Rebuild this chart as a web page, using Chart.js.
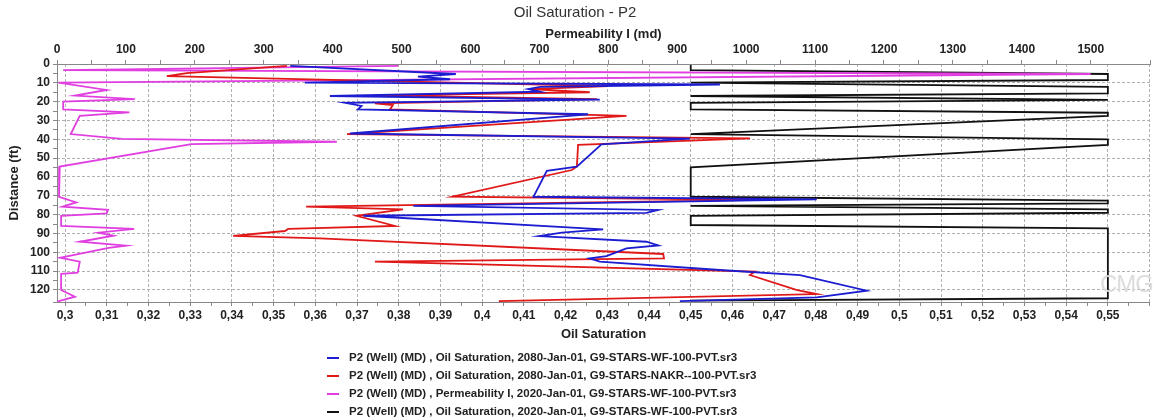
<!DOCTYPE html>
<html>
<head>
<meta charset="utf-8">
<script src="https://cdn.jsdelivr.net/npm/chart.js@4.4.1/dist/chart.umd.min.js"></script>
<style>
    body { margin: 0; background: #fff; }
    #wrap { position: relative; width: 1156px; height: 420px; }
    #legend { position: absolute; left: 327px; top: 348px; font: bold 11.5px 'Liberation Sans', Arial, sans-serif; color: #222; }
    .row { height: 18px; line-height: 18px; white-space: nowrap; }
    .swatch { display: inline-block; width: 12px; height: 2px; margin-right: 10px; vertical-align: middle; }
    #mark { position: absolute; left: 1100px; top: 270px; font: 24px 'Liberation Sans', Arial, sans-serif; color: #dcdcdc; letter-spacing: -1px; }
</style>
</head>
<body>
<div id="wrap">
    <canvas id="chart" width="1156" height="420"></canvas>
    <div id="mark">CMG</div>
    <div id="legend"></div>
</div>
<script>
const seriesNames = [
    'P2 (Well) (MD) , Oil Saturation, 2080-Jan-01, G9-STARS-WF-100-PVT.sr3',
    'P2 (Well) (MD) , Oil Saturation, 2080-Jan-01, G9-STARS-NAKR--100-PVT.sr3',
    'P2 (Well) (MD) , Permeability I, 2020-Jan-01, G9-STARS-WF-100-PVT.sr3',
    'P2 (Well) (MD) , Oil Saturation, 2020-Jan-01, G9-STARS-WF-100-PVT.sr3'
];
const seriesColors = ['#1c1cd0', '#e01818', '#e03ee0', '#111111'];

const blueDepth = [1.0, 5.3, 6.7, 8.1, 9.9, 10.9, 12.1, 13.3, 14.7, 17.0, 18.9, 20.6, 22.3, 24.1, 26.7, 36.9, 39.6, 42.7, 54.5, 56.7,
    70.5, 71.9, 75.4, 77.5, 79.1, 80.6, 87.8, 89.6, 91.4, 94.4, 96.4, 97.9, 102.0, 103.2, 105.0, 109.4, 112.1, 120.4, 123.9, 125.9];
const blueSo = [0.354, 0.3937, 0.3846, 0.3923, 0.3575, 0.457, 0.4139, 0.411, 0.4139, 0.3635, 0.4282, 0.3671, 0.3711, 0.3702, 0.4254, 0.3683, 0.4498, 0.4286, 0.4227, 0.4155,
    0.4123, 0.4802, 0.3835, 0.4422, 0.4394, 0.3715, 0.429, 0.4191, 0.4137, 0.4394, 0.4422, 0.4346, 0.4298, 0.4257, 0.4282, 0.457, 0.4762, 0.4922, 0.4802, 0.4474];

const redDepth = [1.0, 4.9, 6.4, 11.7, 13.3, 15.0, 16.7, 18.7, 20.9, 21.8, 24.1, 27.6, 37.2, 39.5, 43.0, 54.5, 56.3,
    70.5, 72.2, 75.8, 77.2, 80.6, 86.0, 87.6, 88.7, 91.3, 92.6, 100.9, 103.2, 105.0, 110.3, 112.1, 120.0, 122.2, 125.9];
const redSo = [0.3532, 0.3292, 0.3244, 0.4302, 0.4115, 0.4258, 0.3755, 0.4275, 0.3743, 0.3786, 0.3779, 0.4346, 0.3676, 0.4642, 0.423, 0.4227, 0.4215,
    0.3929, 0.4666, 0.3578, 0.381, 0.3699, 0.3791, 0.3535, 0.3527, 0.3403, 0.3611, 0.4434, 0.4436, 0.3743, 0.4654, 0.4642, 0.4753, 0.4802, 0.404];

const permDepth = [1.0, 3.2, 5.3, 9.9, 13.8, 16.8, 18.7, 20.0, 24.1, 25.7, 27.6, 37.2, 39.8, 41.3, 42.6, 54.5, 70.5, 73.5,
    75.8, 77.5, 79.3, 80.6, 86.0, 87.6, 89.6, 91.2, 94.4, 96.5, 97.6, 102.9, 105.0, 110.8, 111.5, 120.0, 123.6, 126.2];
const permValues = [495, 9, 1500, 2, 72, 26, 113, 9, 9, 105, 33, 20, 94, 406, 195, 4, 3, 28,
    8, 74, 72, 6, 6, 112, 60, 82, 33, 100, 75, 4, 33, 30, 6, 6, 26, 0];

const initDepth = [0.5, 3.2, 5.3, 8.5, 9.9, 12.1, 15.6, 17.0, 19.1, 20.6, 24.1, 25.9, 27.6, 37.2, 40.0, 43.0, 54.9,
    70.5, 72.6, 74.0, 75.4, 77.2, 79.0, 80.7, 85.5, 87.3, 124.4, 125.7];
const initSo = [0.45, 0.45, 0.55, 0.55, 0.45, 0.55, 0.55, 0.45, 0.55, 0.45, 0.45, 0.55, 0.55, 0.45, 0.55, 0.55, 0.45,
    0.45, 0.55, 0.55, 0.45, 0.55, 0.55, 0.45, 0.45, 0.55, 0.55, 0.45];

const font = "'Liberation Sans', Arial, sans-serif";
const gridColor = '#b0b0b0';

function toPoints(values, depths) {
    return values.map((v, i) => ({ x: v, y: depths[i] }));
}

function makeSet(idx, values, depths, axis) {
    return {
        label: seriesNames[idx],
        data: toPoints(values, depths),
        xAxisID: axis,
        showLine: true,
        borderColor: seriesColors[idx],
        backgroundColor: seriesColors[idx],
        borderWidth: 1.8,
        pointRadius: 0,
        tension: 0
    };
}

function buildLegend() {
    const box = document.getElementById('legend');
    seriesNames.forEach((name, i) => {
        const row = document.createElement('div');
        row.className = 'row';
        row.innerHTML = '<span class="swatch" style="background:' + seriesColors[i] + '"></span>' + name;
        box.appendChild(row);
    });
}

// solid left/bottom axis lines (border.dash also dashes the grid)
const axisFrame = {
    id: 'axisFrame',
    beforeDatasetsDraw(chart) {
        const { ctx, chartArea: a } = chart;
        ctx.save();
        ctx.strokeStyle = '#888';
        ctx.lineWidth = 1;
        ctx.beginPath();
        ctx.moveTo(a.left + 0.5, a.top);
        ctx.lineTo(a.left + 0.5, a.bottom + 0.5);
        ctx.lineTo(a.right, a.bottom + 0.5);
        ctx.stroke();
        ctx.restore();
    }
};

function createChart() {
    const ctx = document.getElementById('chart').getContext('2d');
    const tickFont = { family: font, size: 12, weight: 'bold' };
    const titleFont = { family: font, size: 13, weight: 'bold' };

    new Chart(ctx, {
        type: 'scatter',
        data: {
            datasets: [
                makeSet(0, blueSo, blueDepth, 'x'),
                makeSet(1, redSo, redDepth, 'x'),
                makeSet(2, permValues, permDepth, 'x2'),
                makeSet(3, initSo, initDepth, 'x')
            ]
        },
        plugins: [axisFrame],
        options: {
            responsive: false,
            animation: false,
            devicePixelRatio: 1,
            layout: { padding: { left: 0, right: 6, top: 0, bottom: 75 } },
            plugins: {
                legend: { display: false },
                tooltip: { enabled: false },
                title: {
                    display: true,
                    text: 'Oil Saturation - P2',
                    color: '#333',
                    font: { family: font, size: 15, weight: 'normal' },
                    padding: { top: 4, bottom: 3 }
                }
            },
            scales: {
                x: {
                    type: 'linear',
                    position: 'bottom',
                    min: 0.29808,
                    max: 0.5601,
                    afterFit: s => { s.height = 43; },
                    border: { display: false, dash: [3, 2] },
                    grid: {
                        color: c => Math.round(c.tick.value * 1000) % 10 === 0 ? gridColor : 'rgba(0,0,0,0)',
                        tickColor: '#888',
                        tickLength: 4
                    },
                    ticks: {
                        stepSize: 0.005,
                        includeBounds: false,
                        autoSkip: false,
                        maxRotation: 0,
                        padding: 2,
                        color: '#222',
                        font: tickFont,
                        callback: v => {
                            const m = Math.round(v * 1000);
                            if (m % 10 !== 0 || m > 555) return '';
                            return String(m / 1000).replace('.', ',');
                        }
                    },
                    title: { display: true, text: 'Oil Saturation', color: '#222', font: titleFont, padding: { top: 0, bottom: 3 } }
                },
                x2: {
                    type: 'linear',
                    position: 'top',
                    min: 0,
                    max: 1586,
                    afterFit: s => { s.height = 39; },
                    border: { display: true, color: '#888' },
                    grid: { drawOnChartArea: false, tickColor: '#888', tickLength: 4 },
                    ticks: {
                        stepSize: 50,
                        autoSkip: false,
                        maxRotation: 0,
                        padding: 3,
                        color: '#222',
                        font: tickFont,
                        callback: v => (v % 100 === 0 && v <= 1500) ? String(v) : ''
                    },
                    title: { display: true, text: 'Permeability I (md)', color: '#222', font: titleFont, padding: { top: 2, bottom: 0 } }
                },
                y: {
                    type: 'linear',
                    reverse: true,
                    min: 0,
                    max: 126.4,
                    afterFit: s => { s.width = 57; },
                    border: { display: false, dash: [3, 2] },
                    grid: {
                        color: c => c.tick.value % 10 === 0 ? gridColor : 'rgba(0,0,0,0)',
                        tickColor: '#888',
                        tickLength: 4
                    },
                    ticks: {
                        stepSize: 5,
                        autoSkip: false,
                        padding: 3,
                        color: '#222',
                        font: tickFont,
                        callback: v => v % 10 === 0 ? String(v) : ''
                    },
                    title: { display: true, text: 'Distance (ft)', color: '#222', font: titleFont, padding: { top: 7, bottom: 0 } }
                }
            }
        }
    });
}

window.onload = () => {
    buildLegend();
    createChart();
};
</script>
</body>
</html>
